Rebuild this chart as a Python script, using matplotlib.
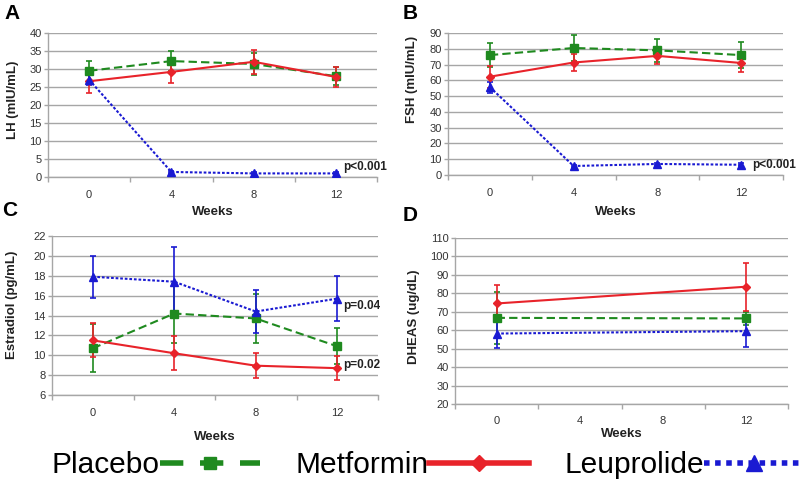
import numpy as np
import matplotlib
matplotlib.use('Agg')
import matplotlib.pyplot as plt
from matplotlib.lines import Line2D

plt.rcParams['font.family'] = ['Liberation Sans', 'DejaVu Sans']

# ---- data ----
weeks = [0, 4, 8, 12]

lh_placebo = [29.5, 32.2, 31.4, 28.0]
lh_placebo_err = [2.8, 2.8, 3.0, 2.5]
lh_metformin = [26.6, 29.2, 32.0, 27.8]
lh_metformin_err = [3.2, 3.0, 3.3, 2.8]
lh_leuprolide = [27.0, 1.4, 1.0, 1.0]
lh_leuprolide_err = [1.5, 0.4, 0.3, 0.3]

fsh_placebo = [76.0, 80.5, 79.0, 76.0]
fsh_placebo_err = [7.5, 8.5, 7.5, 8.0]
fsh_metformin = [62.3, 71.3, 75.5, 71.0]
fsh_metformin_err = [7.0, 5.5, 5.0, 6.0]
fsh_leuprolide = [55.7, 5.7, 7.0, 6.5]
fsh_leuprolide_err = [3.5, 0.8, 0.8, 0.8]

e2_placebo = [10.7, 14.2, 13.7, 10.9]
e2_placebo_err = [2.4, 3.0, 2.5, 1.8]
e2_metformin = [11.5, 10.2, 8.95, 8.7]
e2_metformin_err = [1.7, 1.7, 1.25, 1.2]
e2_leuprolide = [17.9, 17.4, 14.4, 15.7]
e2_leuprolide_err = [2.1, 3.5, 2.2, 2.3]

dheas_weeks = [0, 12]
dheas_placebo = [66.7, 66.4]
dheas_placebo_err = [14.0, 3.5]
dheas_metformin = [74.5, 83.6]
dheas_metformin_err = [10.0, 13.0]
dheas_leuprolide = [58.2, 59.5]
dheas_leuprolide_err = [8.0, 8.5]

GREEN = '#1f8a1f'
RED = '#e8232a'
BLUE = '#1a1ad2'
GRID = '#a6a6a6'

styles = {
    'Placebo': dict(color=GREEN, ls=(0, (4, 2)), marker='s', ms=5.5),
    'Metformin': dict(color=RED, ls='-', marker='D', ms=4.5),
    'Leuprolide': dict(color=BLUE, ls=(0, (1.3, 0.9)), marker='^', ms=6),
}


def draw(ax, wk, series, ylim, ystep):
    x = [weeks.index(w) for w in wk]
    for name, (y, err) in series.items():
        st = styles[name]
        ax.errorbar(x, y, yerr=err, color=st['color'], ls=st['ls'], lw=1.5,
                    marker=st['marker'], ms=st['ms'], elinewidth=1.2,
                    capsize=2.5, capthick=1.2, zorder=3)
    ax.set_xlim(-0.5, len(weeks) - 0.5)
    ax.set_ylim(*ylim)
    ax.set_yticks(np.arange(ylim[0], ylim[1] + 0.01, ystep))
    ax.set_xticks(range(len(weeks)))
    ax.set_xticklabels([str(w) for w in weeks])
    ax.set_xticks(np.arange(-0.5, len(weeks)), minor=True)
    ax.tick_params(axis='x', which='major', length=0, pad=9,
                   labelsize=8, labelcolor='#333333')
    ax.tick_params(axis='x', which='minor', length=3.5, color=GRID, width=1)
    ax.tick_params(axis='y', length=3, color=GRID, width=1, pad=1.5,
                   labelsize=8, labelcolor='#333333')
    ax.grid(axis='y', color=GRID, lw=1)
    ax.set_axisbelow(True)
    for s in ['top', 'right']:
        ax.spines[s].set_visible(False)
    for s in ['left', 'bottom']:
        ax.spines[s].set_color(GRID)
        ax.spines[s].set_linewidth(1)


fig = plt.figure(figsize=(8, 4.82), dpi=100)
W, H = 800, 482


def add_axes(l, r, t, b):
    return fig.add_axes([l / W, 1 - b / H, (r - l) / W, (b - t) / H])


axA = add_axes(48, 377, 33, 177)
axB = add_axes(448, 783, 33, 175)
axC = add_axes(52, 378, 236, 395)
axD = add_axes(455, 788, 238, 404)

draw(axA, weeks, {'Placebo': (lh_placebo, lh_placebo_err),
                  'Metformin': (lh_metformin, lh_metformin_err),
                  'Leuprolide': (lh_leuprolide, lh_leuprolide_err)}, (0, 40), 5)
draw(axB, weeks, {'Placebo': (fsh_placebo, fsh_placebo_err),
                  'Metformin': (fsh_metformin, fsh_metformin_err),
                  'Leuprolide': (fsh_leuprolide, fsh_leuprolide_err)}, (0, 90), 10)
draw(axC, weeks, {'Placebo': (e2_placebo, e2_placebo_err),
                  'Metformin': (e2_metformin, e2_metformin_err),
                  'Leuprolide': (e2_leuprolide, e2_leuprolide_err)}, (6, 22), 2)
draw(axD, dheas_weeks, {'Placebo': (dheas_placebo, dheas_placebo_err),
                        'Metformin': (dheas_metformin, dheas_metformin_err),
                        'Leuprolide': (dheas_leuprolide, dheas_leuprolide_err)}, (20, 110), 10)

lab = dict(fontsize=9.5, fontweight='bold', color='#222222')
for ax, ylab, yc, pad in [(axA, 'LH (mIU/mL)', (-0.088, 0.535), 5),
                          (axB, 'FSH (mIU/mL)', (-0.09, 0.67), 6),
                          (axC, 'Estradiol (pg/mL)', (-0.104, 0.566), 10),
                          (axD, 'DHEAS (ug/dL)', (-0.105, 0.524), 1)]:
    ax.set_ylabel(ylab, **lab)
    ax.yaxis.set_label_coords(*yc)
    ax.set_xlabel('Weeks', labelpad=pad, **lab)

pv = dict(fontsize=8.5, fontweight='bold', color='#222222', va='center', ha='left')
axA.text(3.09, 2.8, 'p<0.001', **pv)
axB.text(3.13, 6.4, 'p<0.001', clip_on=False, **pv)
axC.text(3.07, 14.96, 'p=0.04', **pv)
axC.text(3.07, 9.0, 'p=0.02', **pv)

for letter, x, y in [('A', 4, 4), ('B', 403, 4), ('C', 2, 201), ('D', 403, 206)]:
    fig.text(x / W, 1 - y / H, letter, fontsize=15, fontweight='bold',
             ha='left', va='top')

# legend: label first, then sample
handles = [
    Line2D([], [], color=GREEN, lw=4, ls=(0, (4.2, 3)), marker='s', ms=9),
    Line2D([], [], color=RED, lw=4, ls='-', marker='D', ms=8),
    Line2D([], [], color=BLUE, lw=4, ls=(0, (1, 1)), marker='^', ms=11),
]
fig.legend(handles, ['Placebo', 'Metformin', 'Leuprolide'], ncol=3,
           loc='center', bbox_to_anchor=(428 / W, 1 - 465 / H),
           markerfirst=False, frameon=False, fontsize=21.5,
           handlelength=3.35, handletextpad=0.0, columnspacing=1.2,
           borderaxespad=0, borderpad=0)

fig.savefig('out.png', dpi=100)
